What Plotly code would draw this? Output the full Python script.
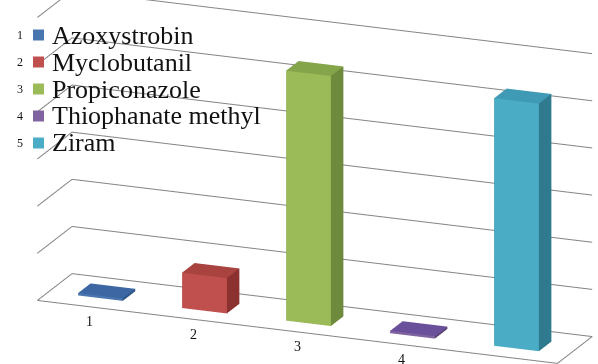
import math
import plotly.graph_objects as go

# Pesticide residues, one column per compound
categories = ["1", "2", "3", "4", "5"]
pesticides = ["Azoxystrobin", "Myclobutanil", "Propiconazole", "Thiophanate methyl", "Ziram"]
values = [0.05, 0.75, 5.3, 0.05, 5.25]
front_colors = ["#4A76B0", "#C0504D", "#9BBB59", "#8064A2", "#4BACC6"]
side_colors = ["#2F5486", "#8B3230", "#6E8A3D", "#5A4478", "#2F7A8E"]
top_colors = ["#3C67A2", "#A8433F", "#84A54A", "#6A509A", "#3E9AB5"]
grid_levels = [1, 2, 3, 4, 5, 6]

X0, X1 = 0.5, 5.5      # floor extent along categories
Y0, Y1 = 0.0, 1.0      # floor depth
ZMAX = 6
PAD = 0.05
BAR_W = 0.43
BAR_D0, BAR_D1 = 0.32, 0.68
GRID = dict(color="#858585", width=2)


def box(xc, h, fc, sc, tc, name):
    x0, x1 = xc - BAR_W / 2, xc + BAR_W / 2
    y0, y1 = BAR_D0, BAR_D1
    xs = [x0, x1, x1, x0, x0, x1, x1, x0]
    ys = [y0, y0, y1, y1, y0, y0, y1, y1]
    zs = [0, 0, 0, 0, h, h, h, h]
    # faces: bottom, top, front, back, left, right
    tri = [
        (0, 1, 2), (0, 2, 3),
        (4, 5, 6), (4, 6, 7),
        (0, 1, 5), (0, 5, 4),
        (3, 2, 6), (3, 6, 7),
        (0, 3, 7), (0, 7, 4),
        (1, 2, 6), (1, 6, 5),
    ]
    cols = [sc, sc, tc, tc, fc, fc, sc, sc, sc, sc, sc, sc]
    return go.Mesh3d(
        x=xs, y=ys, z=zs,
        i=[t[0] for t in tri], j=[t[1] for t in tri], k=[t[2] for t in tri],
        facecolor=cols, flatshading=True,
        lighting=dict(ambient=1, diffuse=0, specular=0, roughness=1, fresnel=0),
        hoverinfo="skip", name=name, showlegend=False,
    )


def line(xs, ys, zs):
    return go.Scatter3d(x=xs, y=ys, z=zs, mode="lines", line=GRID,
                        hoverinfo="skip", showlegend=False)


fig = go.Figure()

# gridlines on the left and back walls
for z in grid_levels:
    fig.add_trace(line([X0, X0, X1], [Y0, Y1, Y1], [z, z, z]))
# floor outline
fig.add_trace(line([X0, X1, X1, X0, X0], [Y0, Y0, Y1, Y1, Y0], [0, 0, 0, 0, 0]))

for n, v in enumerate(values):
    fig.add_trace(box(n + 1, v, front_colors[n], side_colors[n], top_colors[n], pesticides[n]))

hidden = dict(visible=False, showgrid=False, showbackground=False,
              zeroline=False, showspikes=False)

# viewing direction: turned 19 deg to the right, 17 deg above the floor
az, el, dist = math.radians(19), math.radians(17), 2.0
eye = dict(x=dist * math.sin(az) * math.cos(el),
           y=-dist * math.cos(az) * math.cos(el),
           z=dist * math.sin(el))

fig.update_layout(
    width=598, height=364,
    margin=dict(l=0, r=0, t=0, b=0),
    paper_bgcolor="white",
    font=dict(family="Liberation Serif", color="#111"),
    scene=dict(
        domain=dict(x=[0, 1], y=[0, 1]),
        xaxis=dict(range=[X0 - PAD, X1 + PAD], **hidden),
        yaxis=dict(range=[Y0 - PAD, Y1 + PAD], **hidden),
        zaxis=dict(range=[-PAD, ZMAX + PAD], **hidden),
        aspectmode="manual",
        aspectratio=dict(x=3.135, y=0.57, z=1.66),
        camera=dict(
            eye=eye,
            center=dict(x=-0.082, y=-0.028, z=-0.03),
            up=dict(x=0, y=0, z=1),
            projection=dict(type="orthographic"),
        ),
        annotations=[
            dict(x=n + 1, y=Y0, z=0, text=c, showarrow=False, yshift=-15,
                 font=dict(size=14, family="Liberation Serif", color="#111"))
            for n, c in enumerate(categories)
        ],
    ),
)

# legend drawn as key squares plus labels
shapes, notes = [], []
for n, name in enumerate(pesticides):
    yc = 1 - (35 + 27 * n) / 364
    shapes.append(dict(type="rect", xref="paper", yref="paper",
                       x0=33 / 598, x1=44 / 598, y0=yc - 5.5 / 364, y1=yc + 5.5 / 364,
                       fillcolor=front_colors[n], line=dict(width=0)))
    notes.append(dict(xref="paper", yref="paper", x=50 / 598, y=yc, xanchor="left",
                      yanchor="middle", text=name, showarrow=False,
                      font=dict(size=26, family="Liberation Serif", color="#111")))
    notes.append(dict(xref="paper", yref="paper", x=20 / 598, y=yc, xanchor="center",
                      yanchor="middle", text=categories[n], showarrow=False,
                      font=dict(size=12, family="Liberation Serif", color="#111")))
fig.update_layout(shapes=shapes, annotations=notes)

fig.write_html("out.html")
